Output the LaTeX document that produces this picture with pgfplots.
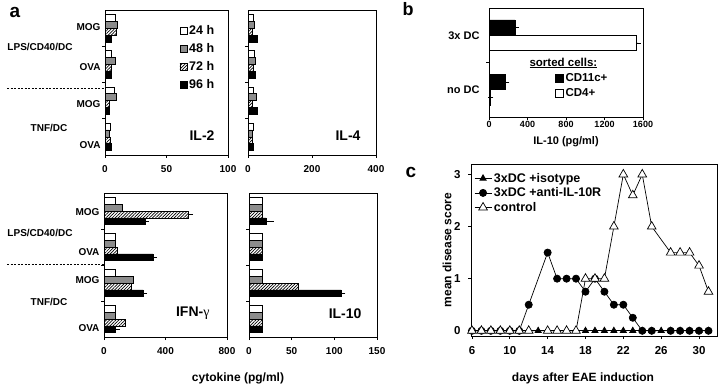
\documentclass[border=0pt]{standalone}
\usepackage{pgfplots}
\pgfplotsset{compat=1.18}
\usepackage{pgfplotstable}
\usepackage{fontspec}
\setmainfont{Liberation Sans}
\newfontfamily\serifgreek{Liberation Serif}
\usetikzlibrary{patterns.meta}
\definecolor{midgray}{HTML}{8C8C8C}

\pgfplotstableread{
y a b c d
3 8 10 9.5 5.5
2 5 8 5 5
1 7.5 9 3.5 3.5
0 4.5 3.5 4 5
}\tabiltwo
\pgfplotstableread{
y a b c d
3 16 21 12 28
2 21 24 18 24
1 18 26 12 28
0 16 12 12 16
}\tabilfour
\pgfplotstableread{
y a b c d ec ed
3 76 117 551 270 12 6
2 76 74 84 318 0 10
1 76 190 175 255 0 10
0 76 76 140 76 0 10
}\tabifn
\pgfplotstableread{
y a b c d ec ed
3 15 15 15 20 0 6
2 15 15 15 15 0 0
1 15 15 58 108 0 2
0 15 15 15 15 0 0
}\tabilten
\pgfplotstableread{
y cd11c ecd11c cd4 ecd4
1 270 15 1530 20
0 170 15 15 5
}\tabb

\tikzset{ttl/.style={font=\bfseries\fontsize{14}{16}\selectfont, anchor=south east}}

\pgfplotsset{
  base/.style={
    scale only axis, anchor=south west, clip=false,
    tick pos=left, tick align=outside, major tick length=3pt,
    every tick/.style={black, line width=0.6pt},
    axis line style={line width=0.8pt},
    /pgf/number format/assume math mode=true,
    /pgf/number format/set thousands separator={},
    error bars/error bar style={black, line width=0.6pt, solid},
    error bars/error mark options={black, line width=0.6pt, mark size=2.5pt},
  },
  cyto/.style={
    base, xbar, bar width=0.19,
    ymin=-0.5, ymax=3.5, xmin=0,
    ytick={0.5,1.5,2.5}, yticklabels={},
    ticklabel style={font=\bfseries\fontsize{10}{12}\selectfont},
    xticklabel style={yshift=-4pt},
    extra y tick style={major tick length=0pt, yticklabel style={xshift=-1pt}},
  },
  s24/.style={draw=black, fill=white, line width=0.6pt, bar shift=0.285},
  s48/.style={draw=black, fill=midgray, line width=0.6pt, bar shift=0.095},
  s72/.style={draw=black, pattern={Lines[angle=45,distance=2.2pt,line width=0.7pt]}, line width=0.6pt, bar shift=-0.095},
  s96/.style={draw=black, fill=black, line width=0.6pt, bar shift=-0.285},
}

\begin{document}
\begin{tikzpicture}
\useasboundingbox (0,0) rectangle (720pt,386pt);

% ---------- IL-2 ----------
\begin{axis}[cyto, at={(105pt,231pt)}, width=123pt, height=145pt,
  xmax=100, xtick={0,50,100},
  extra y ticks={3.03,1.93,0.91,-0.22}, extra y tick labels={MOG,OVA,MOG,OVA},
  legend style={at={(0.605,0.91)}, anchor=north west, draw=none, fill=none, inner sep=0pt,
    row sep=3.5pt, font=\bfseries\fontsize{12.5}{14}\selectfont},
  legend image code/.code={\draw[#1] (0pt,-3.5pt) rectangle (7pt,3.5pt);},
  legend cell align=left]
\addplot[s24] table[x=a,y=y]{\tabiltwo};
\addplot[s48] table[x=b,y=y]{\tabiltwo};
\addplot[s72] table[x=c,y=y]{\tabiltwo};
\addplot[s96] table[x=d,y=y]{\tabiltwo};
\legend{24 h,48 h,72 h,96 h}
\node[ttl, xshift=-10pt, yshift=11pt] at (rel axis cs:1,0) {IL-2};
\end{axis}

% ---------- IL-4 ----------
\begin{axis}[cyto, at={(248pt,231pt)}, width=128pt, height=145pt,
  xmax=400, xtick={0,200,400}]
\addplot[s24] table[x=a,y=y]{\tabilfour};
\addplot[s48] table[x=b,y=y]{\tabilfour};
\addplot[s72] table[x=c,y=y]{\tabilfour};
\addplot[s96] table[x=d,y=y]{\tabilfour};
\node[ttl, xshift=-12pt, yshift=11pt] at (rel axis cs:1,0) {IL-4};
\end{axis}

% ---------- IFN-gamma ----------
\begin{axis}[cyto, at={(104pt,49pt)}, width=123pt, height=144pt,
  xmax=800, xtick={0,400,800},
  extra y ticks={2.97,1.86,1.08,-0.25}, extra y tick labels={MOG,OVA,MOG,OVA}]
\addplot[s24] table[x=a,y=y]{\tabifn};
\addplot[s48] table[x=b,y=y]{\tabifn};
\addplot[s72, error bars/.cd, x dir=plus, x explicit] table[x=c,y=y,x error=ec]{\tabifn};
\addplot[s96, error bars/.cd, x dir=plus, x explicit] table[x=d,y=y,x error=ed]{\tabifn};
\node[ttl, xshift=-14pt, yshift=14pt] at (rel axis cs:1,0) {IFN-{\serifgreek\mdseries γ}};
\end{axis}

% ---------- IL-10 ----------
\begin{axis}[cyto, at={(249pt,49pt)}, width=128pt, height=144pt,
  xmax=150, xtick={0,50,100,150}]
\addplot[s24] table[x=a,y=y]{\tabilten};
\addplot[s48] table[x=b,y=y]{\tabilten};
\addplot[s72] table[x=c,y=y]{\tabilten};
\addplot[s96, error bars/.cd, x dir=plus, x explicit] table[x=d,y=y,x error=ed]{\tabilten};
\node[ttl, xshift=-12pt, yshift=15pt] at (rel axis cs:1,0) {IL-10};
\end{axis}

% ---------- panel b ----------
\begin{axis}[base, at={(489pt,269pt)}, width=154pt, height=109pt,
  xbar, bar width=0.28,
  ymin=-0.5, ymax=1.5, xmin=0, xmax=1600, xtick={0,400,...,1600},
  ytick={0.5}, yticklabels={},
  extra y ticks={0,1}, extra y tick labels={no DC,3x DC},
  extra y tick style={major tick length=0pt, yticklabel style={xshift=-6pt}},
  ticklabel style={font=\bfseries\fontsize{9}{11}\selectfont},
  yticklabel style={font=\bfseries\fontsize{11}{13}\selectfont},
  xticklabel style={yshift=2pt},
  legend style={at={(0.43,0.42)}, anchor=north west, draw=none, fill=none, inner sep=0pt,
    row sep=2pt, font=\bfseries\fontsize{11.5}{13}\selectfont},
  legend image code/.code={\draw[#1] (0pt,-4pt) rectangle (7.5pt,4pt);},
  legend cell align=left]
\addplot[draw=black, fill=black, line width=0.6pt, bar shift=0.14,
  error bars/.cd, x dir=plus, x explicit] table[x=cd11c,y=y,x error=ecd11c]{\tabb};
\addplot[draw=black, fill=white, line width=0.6pt, bar shift=-0.14,
  error bars/.cd, x dir=plus, x explicit] table[x=cd4,y=y,x error=ecd4]{\tabb};
\legend{CD11c+,CD4+}
\end{axis}

% ---------- panel c ----------
\begin{axis}[base, at={(471pt,50pt)}, width=246pt, height=172pt,
  xmin=5.9, xmax=31.9, ymin=-0.1, ymax=3.2,
  xtick={6,10,...,30}, ytick={0,1,2,3},
  ticklabel style={font=\bfseries\fontsize{11.5}{13}\selectfont},
  xticklabel style={yshift=-4pt}, yticklabel style={xshift=-4pt},
  legend style={at={(0.012,0.96)}, anchor=north west, draw=none, fill=none, inner sep=0pt,
    row sep=0pt, font=\bfseries\fontsize{12.5}{14}\selectfont},
  legend cell align=left]
\addplot[black, line width=0.7pt, mark=triangle*, mark size=3.6pt] coordinates {
(6,0)(7,0)(8,0)(9,0)(10,0)(11,0)(12,0)(13,0)(14,0)(15,0)(16,0)(17,0)(18,0)(19,0)(20,0)
(21,0)(22,0)(23,0)(24,0)(25,0)(26,0)(27,0)(28,0)(29,0)(30,0)(31,0)};
\addplot[black, line width=0.7pt, mark=*, mark size=3.6pt] coordinates {
(6,0)(7,0)(8,0)(9,0)(10,0)(11,0)(12,0.5)(14,1.5)(15,1)(16,1)(17,1)(18,0.75)(19,1)
(20,0.75)(21,0.5)(22,0.5)(23,0.25)(24,0)(25,0)(27,0)(28,0)(29,0)(30,0)(31,0)};
\addplot[black, line width=0.7pt, mark=triangle*, mark options={fill=white}, mark size=5pt] coordinates {
(6,0)(7,0)(8,0)(9,0)(10,0)(11,0)(12,0)(14,0)(15,0)(16,0)(17,0)(18,1)(19,1)(20,1)
(21,2)(22,3)(23,2.6)(24,3)(25,2)(27,1.5)(28,1.5)(29,1.5)(30,1.25)(31,0.75)};
\legend{3xDC +isotype,3xDC +anti-IL-10R,control}
\end{axis}

% ---------- free text ----------
\node[anchor=base west, font=\bfseries\fontsize{19}{20}\selectfont] at (6pt,368pt) {a};
\node[anchor=base west, font=\bfseries\fontsize{18}{20}\selectfont] at (399pt,370pt) {b};
\node[anchor=base west, font=\bfseries\fontsize{19}{20}\selectfont] at (402pt,208pt) {c};

\node[font=\bfseries\fontsize{10}{12}\selectfont] at (40pt,339pt) {LPS/CD40/DC};
\node[font=\bfseries\fontsize{10}{12}\selectfont] at (49pt,258pt) {TNF/DC};
\node[font=\bfseries\fontsize{10}{12}\selectfont] at (40pt,153pt) {LPS/CD40/DC};
\node[font=\bfseries\fontsize{10}{12}\selectfont] at (49pt,84pt) {TNF/DC};
\draw[line width=0.8pt, dash pattern=on 2pt off 1.5pt] (7pt,298pt) -- (104pt,298pt);
\draw[line width=0.8pt, dash pattern=on 2pt off 1.5pt] (7pt,122pt) -- (104pt,122pt);

\node[font=\bfseries\fontsize{12}{14}\selectfont] at (238pt,8pt) {cytokine (pg/ml)};
\node[font=\bfseries\fontsize{11}{13}\selectfont] at (566pt,244pt) {IL-10 (pg/ml)};
\node[anchor=west, font=\bfseries\fontsize{11.5}{13}\selectfont] at (526pt,323pt) {\underline{sorted cells:}};
\node[font=\bfseries\fontsize{12}{14}\selectfont] at (583pt,8pt) {days after EAE induction};
\node[rotate=90, font=\bfseries\fontsize{12}{14}\selectfont] at (447pt,136pt) {mean disease score};
\end{tikzpicture}
\end{document}
